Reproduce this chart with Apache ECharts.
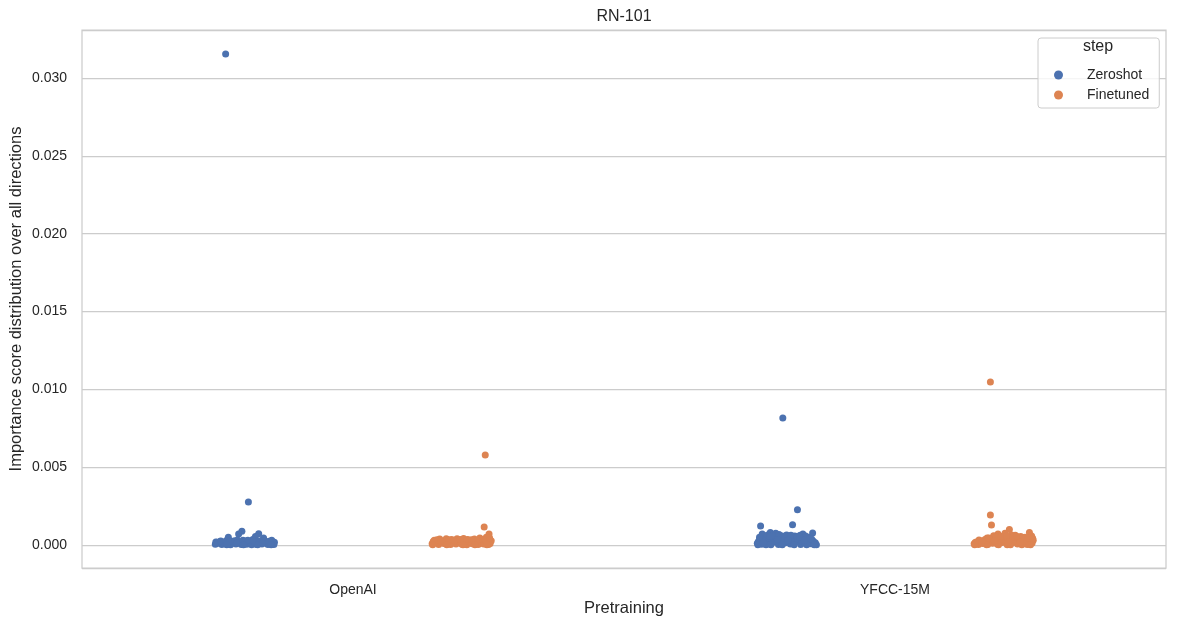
<!DOCTYPE html>
<html><head><meta charset="utf-8">
<script src="https://cdn.jsdelivr.net/npm/echarts@6/dist/echarts.min.js"></script>
<style>html,body{margin:0;padding:0;background:#fff}#c{width:1177px;height:627px}</style>
</head><body><div id="c"></div>
<script>
const categories = ['OpenAI', 'YFCC-15M'];
const hues = ['Zeroshot', 'Finetuned'];
const colors = ['#4c72b0', '#dd8452'];
const dodge = [-0.2, 0.2];

// [jitter offset (category units), value]
const openaiZeroshot = [
  [-0.035, 0.03154], [0.007, 0.00276],
  [-0.005, 0.00088], [-0.011, 0.0007], [-0.030, 0.0005], [0.026, 0.00072], [0.035, 0.00045],
  [0.050, 0.0003], [0.015, 0.00035], [-0.045, 0.00022], [0.020, 0.00055],
  [-0.054, 0.00005], [-0.048, 0.00012], [-0.042, 0.00004], [-0.037, 0.00018], [-0.031, 0.00008],
  [-0.026, 0.00002], [-0.020, 0.00015], [-0.016, 0.00006], [-0.011, 0.0002], [-0.006, 0.00003],
  [-0.001, 0.00012], [0.004, 0.00005], [0.009, 0.00019], [0.013, 0.00002], [0.018, 0.0001],
  [0.022, 0.00004], [0.028, 0.00016], [0.032, 0.00007], [0.038, 0.00021], [0.043, 0.00003],
  [0.047, 0.00013], [0.052, 0.00006], [0.055, 0.00018], [-0.051, 0.00017], [-0.039, 0.00009],
  [-0.023, 0.00024], [-0.008, 0.00011], [0.011, 0.00008], [0.025, 0.00023], [0.041, 0.0001],
  [-0.053, 0.0002], [-0.044, 0.00026], [-0.034, 0.00028], [-0.027, 0.00022], [-0.018, 0.00027],
  [-0.013, 0.00032], [-0.003, 0.0003], [0.002, 0.00025], [0.006, 0.0003], [0.016, 0.00025],
  [0.030, 0.00028], [0.036, 0.00027], [0.045, 0.00024], [0.054, 0.00004], [-0.033, 0.00001],
  [-0.002, 0.00001], [0.024, 0.00001], [0.049, 0.00001], [-0.015, 0.00013], [0.033, 0.00014]
];
const openaiFinetuned = [
  [0.044, 0.00578], [0.042, 0.00116], [0.051, 0.0007],
  [-0.050, 0.0003], [-0.040, 0.00038], [-0.028, 0.0004], [-0.018, 0.00036], [-0.008, 0.0004],
  [0.004, 0.00042], [0.014, 0.00032], [0.024, 0.00038], [0.034, 0.00045], [0.046, 0.0005],
  [-0.054, 0.00008], [-0.047, 0.00015], [-0.042, 0.00004], [-0.036, 0.0002], [-0.031, 0.00009],
  [-0.025, 0.00025], [-0.020, 0.00003], [-0.015, 0.00018], [-0.010, 0.00007], [-0.004, 0.00022],
  [0.001, 0.00005], [0.006, 0.00016], [0.010, 0.00002], [0.016, 0.0002], [0.020, 0.00008],
  [0.027, 0.00014], [0.031, 0.00003], [0.037, 0.00024], [0.041, 0.00006], [0.048, 0.00018],
  [0.053, 0.0001], [0.055, 0.00028], [-0.052, 0.00022], [-0.033, 0.00012], [-0.012, 0.00028],
  [0.008, 0.00026], [0.029, 0.00027], [0.050, 0.00004],
  [-0.045, 0.00033], [-0.038, 0.00026], [-0.023, 0.00034], [-0.013, 0.0003], [-0.002, 0.00035],
  [0.011, 0.00036], [0.019, 0.00033], [0.039, 0.00036], [0.044, 0.00032], [0.052, 0.00045],
  [-0.053, 0.00001], [-0.027, 0.00001], [0.003, 0.00001], [0.025, 0.00001], [0.047, 0.00001]
];
const yfccZeroshot = [
  [-0.007, 0.00816], [0.020, 0.00227], [0.011, 0.0013], [-0.048, 0.00122], [0.048, 0.00077],
  [-0.030, 0.0008], [-0.020, 0.00075], [-0.010, 0.0006], [0.000, 0.00065], [0.030, 0.0007],
  [0.040, 0.0005], [-0.040, 0.00055], [0.015, 0.00058], [0.025, 0.00062], [-0.045, 0.0007],
  [-0.054, 0.00012], [-0.050, 0.00035], [-0.046, 0.00005], [-0.042, 0.00025], [-0.037, 0.00045],
  [-0.033, 0.0001], [-0.028, 0.0004], [-0.024, 0.00018], [-0.019, 0.0005], [-0.015, 0.00003],
  [-0.011, 0.0003], [-0.006, 0.00048], [-0.002, 0.00014], [0.003, 0.00038], [0.007, 0.00006],
  [0.012, 0.00044], [0.017, 0.0002], [0.021, 0.00035], [0.026, 0.00004], [0.031, 0.00042],
  [0.035, 0.00016], [0.039, 0.0003], [0.044, 0.00008], [0.049, 0.00025], [0.053, 0.00015],
  [0.055, 0.00002], [-0.052, 0.00022], [-0.038, 0.00002], [-0.022, 0.00028], [-0.004, 0.00022],
  [0.009, 0.0002], [0.028, 0.00024], [0.046, 0.00038], [-0.026, 0.0006], [0.005, 0.00052],
  [-0.050, 0.0005], [-0.035, 0.00065], [-0.014, 0.00068], [-0.003, 0.00058], [0.008, 0.00062],
  [0.019, 0.00055], [0.035, 0.00058], [0.043, 0.0004], [-0.031, 0.00055], [0.024, 0.0005],
  [-0.053, 0.00001], [-0.029, 0.00001], [-0.008, 0.00001], [0.014, 0.00001], [0.037, 0.00001],
  [0.051, 0.00001], [-0.017, 0.00035], [0.033, 0.0003], [-0.043, 0.00015], [0.002, 0.0003]
];
const yfccFinetuned = [
  [-0.024, 0.01047], [-0.024, 0.00193], [-0.022, 0.00128], [0.011, 0.001], [0.048, 0.0008],
  [0.022, 0.00062], [0.003, 0.00075], [-0.010, 0.0007], [-0.018, 0.0006], [0.032, 0.00055],
  [0.040, 0.0005], [-0.030, 0.00045], [0.015, 0.00065], [0.052, 0.00058],
  [-0.054, 0.00008], [-0.050, 0.0002], [-0.046, 0.00004], [-0.042, 0.00028], [-0.038, 0.0001],
  [-0.034, 0.00035], [-0.029, 0.00003], [-0.025, 0.0003], [-0.020, 0.00012], [-0.015, 0.0004],
  [-0.011, 0.00005], [-0.006, 0.00033], [-0.002, 0.00016], [0.002, 0.00042], [0.007, 0.00002],
  [0.012, 0.00036], [0.017, 0.00014], [0.021, 0.00038], [0.026, 0.00006], [0.030, 0.0003],
  [0.035, 0.0001], [0.039, 0.00033], [0.044, 0.00003], [0.049, 0.00035], [0.053, 0.00013],
  [0.055, 0.0003], [-0.052, 0.00016], [-0.036, 0.00022], [-0.008, 0.00025], [0.019, 0.00025],
  [0.042, 0.00022], [0.028, 0.00045],
  [-0.045, 0.00032], [-0.027, 0.00045], [-0.013, 0.00052], [-0.004, 0.00055], [0.006, 0.00058],
  [0.017, 0.00052], [0.025, 0.00055], [0.036, 0.00048], [0.046, 0.00045], [0.054, 0.00044],
  [-0.053, 0.00001], [-0.031, 0.00001], [-0.009, 0.00001], [0.013, 0.00001], [0.034, 0.00001],
  [0.050, 0.00001], [-0.040, 0.00018], [-0.017, 0.00025], [0.009, 0.0002], [0.031, 0.00018]
];
const groups = [[openaiZeroshot, yfccZeroshot], [openaiFinetuned, yfccFinetuned]];

const font = "'Liberation Sans', Arial, sans-serif";
const series = hues.map((h, hi) => {
  const data = [];
  groups[hi].forEach((arr, ci) => arr.forEach(p => data.push([ci + dodge[hi] + p[0], p[1]])));
  return {
    name: h, type: 'scatter', xAxisIndex: 1, symbolSize: 7,
    itemStyle: { color: colors[hi], opacity: 1 }, data
  };
});

const chart = echarts.init(document.getElementById('c'), null, { renderer: 'canvas' });
chart.setOption({
  animation: false,
  textStyle: { fontFamily: font },
  grid: {
    left: 82, right: 11, top: 30, bottom: 59, show: true, borderColor: '#cccccc', borderWidth: 1.25,
    containLabel: false, outerBoundsMode: 'none'
  },
  xAxis: [
    {
      type: 'category', data: categories, boundaryGap: true, position: 'bottom',
      name: 'Pretraining', nameLocation: 'middle', nameGap: 32, nameMoveOverlap: false,
      nameTextStyle: { fontFamily: font, fontSize: 16.5, color: '#262626' },
      axisLine: { show: false }, axisTick: { show: false }, splitLine: { show: false },
      axisLabel: { fontFamily: font, fontSize: 14, color: '#262626', margin: 15 }
    },
    {
      type: 'value', min: -0.5, max: 1.5, show: false, position: 'bottom'
    }
  ],
  yAxis: {
    type: 'value', min: -0.001477, max: 0.033083, splitNumber: 7,
    name: 'Importance score distribution over all directions', nameLocation: 'middle', nameGap: 57,
    nameMoveOverlap: false,
    nameTextStyle: { fontFamily: font, fontSize: 16.5, color: '#262626' },
    axisLine: { show: false }, axisTick: { show: false },
    axisLabel: {
      fontFamily: font, fontSize: 14, color: '#262626', margin: 15,
      showMinLabel: false, showMaxLabel: false,
      formatter: v => v.toFixed(3)
    },
    splitLine: { show: true, lineStyle: { color: '#cccccc', width: 1.25 } }
  },
  legend: {
    data: hues, orient: 'vertical', left: 1038, top: 38,
    padding: [30, 10, 6, 16], itemGap: 6, icon: 'circle', itemWidth: 9, itemHeight: 9,
    backgroundColor: 'rgba(255,255,255,0.8)', borderColor: '#cccccc', borderWidth: 1, borderRadius: 3,
    textStyle: { fontFamily: font, fontSize: 14, color: '#262626', padding: [0, 0, 0, 19] }
  },
  graphic: [
    {
      type: 'text', x: 1098, y: 39, z: 100,
      style: { text: 'step', font: '16px ' + font, fill: '#262626', textAlign: 'center', textVerticalAlign: 'top' }
    },
    {
      type: 'text', x: 624, y: 9, z: 100,
      style: { text: 'RN-101', font: '16px ' + font, fill: '#262626', textAlign: 'center', textVerticalAlign: 'top' }
    }
  ],
  series
});
</script></body></html>
